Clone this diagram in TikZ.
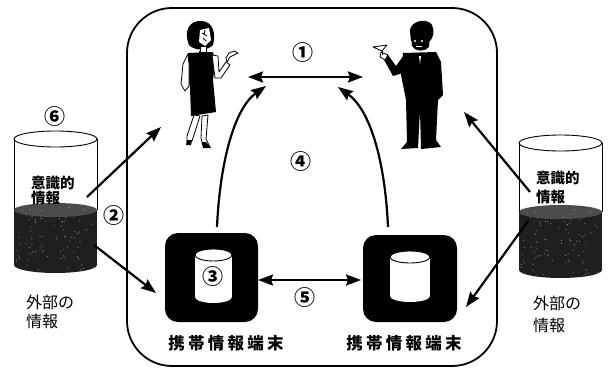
\documentclass[tikz,border=0pt]{standalone}
\usepackage{fontspec}
\newfontfamily\cjk{Noto Sans CJK JP}
\newfontfamily\cjkwide{Noto Sans CJK JP}[LetterSpace=20]
\usetikzlibrary{arrows.meta}

\tikzset{
  flow/.style={line width=2.2pt, -{Stealth[length=15pt,width=11pt,inset=2pt]}},
  flowboth/.style={line width=2.2pt, {Stealth[length=15pt,width=11pt,inset=2pt]}-{Stealth[length=15pt,width=11pt,inset=2pt]}},
  num/.style={inner sep=0pt, font=\cjk\bfseries\fontsize{21}{21}\selectfont},
  jtext/.style={inner sep=0pt, anchor=west, font=\cjk\fontsize{16}{16}\selectfont},
  jbold/.style={inner sep=0pt, anchor=west, font=\cjk\bfseries\fontsize{14.5}{14.5}\selectfont},
  termlabel/.style={inner sep=0pt, font=\cjkwide\bfseries\fontsize{16.5}{16.5}\selectfont},
  terminal/.style={fill=black, rounded corners=13pt, inner sep=0pt},
  liquid/.style={fill=black!88},
}

% cylinder holding external knowledge: #1 centre x, #2 half width,
% #3 top y, #4 liquid surface y, #5 bottom y
\newcommand{\tankdraw}[5]{%
  \fill[white] (#1-#2,#3) rectangle (#1+#2,#5);
  \fill[liquid] (#1-#2,#4) rectangle (#1+#2,#5);
  \fill[liquid] (#1,#5) ellipse [x radius=#2pt, y radius=8pt];
  \fill[black!70] (#1,#4) ellipse [x radius=#2pt, y radius=7pt];
  \begin{scope}
    \clip (#1-#2,#4-7) rectangle (#1+#2,#5+8);
    \pgfmathsetseed{11}
    \foreach \k in {1,...,90}{
      \pgfmathsetmacro{\px}{#1-#2+2+(2*#2-4)*rnd}
      \pgfmathsetmacro{\py}{#4-4+(#5-#4+10)*rnd}
      \fill[black!45] (\px,\py) circle[radius=0.55pt];
    }
  \end{scope}
  \draw[line width=0.9pt] (#1-#2,#3) -- (#1-#2,#4);
  \draw[line width=0.9pt] (#1+#2,#3) -- (#1+#2,#4);
  \draw[line width=0.9pt] (#1,#3) ellipse [x radius=#2pt, y radius=8pt];
}

% small white drum drawn inside a terminal
\newcommand{\drumdraw}[4]{%
  \fill[white] (#1-#2,#3) rectangle (#1+#2,#4);
  \fill[white] (#1,#4) ellipse [x radius=#2pt, y radius=6pt];
  \filldraw[fill=white, draw=black, line width=0.9pt] (#1,#3) ellipse [x radius=#2pt, y radius=6pt];
}

\begin{document}
\begin{tikzpicture}[x=1pt, y=-1pt]
\useasboundingbox (0,0) rectangle (612,369);

% shared space
\draw[line width=1.8pt, rounded corners=45pt] (127,8) rectangle (497,366);

% ---------- woman ----------
\begin{scope}[line width=0.8pt, line join=round]
  \fill (189,45) .. controls (183,30) and (190,20) .. (202,21)
        .. controls (213,22) and (216,33) .. (213,45)
        .. controls (208,51) and (194,51) .. cycle;
  \fill[white] (200,30) -- (209,28) -- (211,40) -- (205,46) -- (199,42) -- cycle;
  \draw (202,33) -- (207,36) (203,38) -- (206,41) (205,30) -- (204,35);
  \filldraw[fill=white] (200,46) rectangle (206,52);
  \fill (199,51) -- (203,53) -- (199,55) -- cycle (207,51) -- (203,53) -- (207,55) -- cycle;
  \fill (188,53) -- (213,52) -- (215,62) -- (213,80) -- (216,112) -- (191,116)
        -- (190,88) -- (187,70) -- cycle;
  \filldraw[fill=white] (188,54) -- (183,64) -- (181,84) -- (185,91) -- (189,86) -- (189,64) -- cycle;
  \filldraw[fill=white] (212,55) -- (215,78) -- (221,78) -- (230,65) -- (226,62)
        -- (219,72) -- (218,56) -- cycle;
  \filldraw[fill=white] (227,62) -- (230,57) -- (238,53) -- (234,51) -- (229,53) -- (226,58) -- cycle;
  \filldraw[fill=white] (194,115) -- (187,136) -- (187,142) -- (192,141) -- (200,116) -- cycle;
  \filldraw[fill=white] (202,116) -- (201,138) -- (203,146) -- (210,147) -- (206,139) -- (208,115) -- cycle;
  \fill (187,140) -- (192,140) -- (191,145) -- (186,145) -- cycle;
  \fill (202,142) -- (206,142) -- (211,148) -- (203,148) -- cycle;
  \coordinate (woman) at (203,85);
\end{scope}

% ---------- man ----------
\begin{scope}[line width=0.8pt, line join=round]
  \fill (410,32) .. controls (409,21) and (427,17) .. (432,25)
        .. controls (435,31) and (433,38) .. (430,41) -- (411,41) -- cycle;
  \fill (411,36) -- (430,36) -- (429,47) .. controls (425,52) and (415,52) .. (412,46) -- cycle;
  \fill[white] (415,41) circle[radius=1.1pt] (422,41) circle[radius=1.1pt];
  \fill[white] (416,46) rectangle (422,47.5);
  \fill (403,53) -- (436,52) -- (441,62) -- (443,95) -- (438,100) -- (436,140)
        -- (441,147) -- (421,149) -- (420,110) -- (418,148) -- (401,149)
        -- (407,142) -- (406,100) -- (401,75) -- cycle;
  \fill[white] (419,56) -- (421,56) -- (420,64) -- cycle;
  \fill (404,55) -- (396,66) -- (388,55) -- (383,58) -- (393,76) -- (403,73) -- cycle;
  \filldraw[fill=white] (381,52) -- (388,55) -- (385,60) -- (380,57) -- cycle;
  \filldraw[fill=white] (373,47) -- (387,45) -- (382,51) -- cycle;
  \draw (382,51) -- (382,55);
  \coordinate (man) at (420,90);
\end{scope}

% ---------- terminals ----------
\node[terminal, minimum width=93pt, minimum height=89pt] (termL) at (211.5,277.5) {};
\node[terminal, minimum width=94pt, minimum height=87pt] (termR) at (410,278.5) {};
\drumdraw{213.5}{18.5}{255}{297}
\drumdraw{410}{20}{257}{296}
\node[termlabel] (labL) at (226,343) {携帯情報端末};
\node[termlabel] (labR) at (404,343) {携帯情報端末};

% ---------- external knowledge tanks ----------
\tankdraw{55.5}{41.5}{139}{210}{265}
\tankdraw{560.5}{41.5}{143}{212}{270}
\node[jbold] (consL1) at (31,183) {意識的};
\node[jbold] (consL2) at (31,198) {情報};
\node[jbold] (consR1) at (536,178) {意識的};
\node[jbold] (consR2) at (536,197) {情報};
\node[jtext] (extL1) at (26,302) {外部の};
\node[jtext] (extL2) at (26,321) {情報};
\node[jtext] (extR1) at (533,303) {外部の};
\node[jtext] (extR2) at (533,325) {情報};

% ---------- arrow end points ----------
\coordinate (talkL) at (248,77);
\coordinate (talkR) at (363,77);
\coordinate (upL0) at (217,227);
\coordinate (upL1) at (266,86);
\coordinate (upR0) at (388,227);
\coordinate (upR1) at (338,87);
\coordinate (syncL) at (258,280);
\coordinate (syncR) at (361,280);
\coordinate (tankLa) at (87,197);
\coordinate (tankLb) at (94,245);
\coordinate (tankRa) at (530,192);
\coordinate (tankRb) at (528,221);
\coordinate (toWoman) at (161,127);
\coordinate (toTermL) at (156,293);
\coordinate (toMan) at (464,112);
\coordinate (toTermR) at (466,307);

% ---------- connectors ----------
\draw[flowboth] (talkL) -- (talkR);
\draw[flowboth] (syncL) -- (syncR);
\draw[flow] (upL0) .. controls (220,160) and (235,108) .. (upL1);
\draw[flow] (upR0) .. controls (385,160) and (370,110) .. (upR1);
\draw[flow] (tankLa) -- (toWoman);
\draw[flow] (tankLb) -- (toTermL);
\draw[flow] (tankRa) -- (toMan);
\draw[flow] (tankRb) -- (toTermR);

% ---------- step numbers ----------
\node[num] (n1) at (303,53) {①};
\node[num] (n2) at (114,216) {②};
\node[num] (n3) at (213,277) {③};
\node[num] (n4) at (301,162) {④};
\node[num] (n5) at (305,298) {⑤};
\node[num] (n6) at (55,117) {⑥};
\end{tikzpicture}
\end{document}
